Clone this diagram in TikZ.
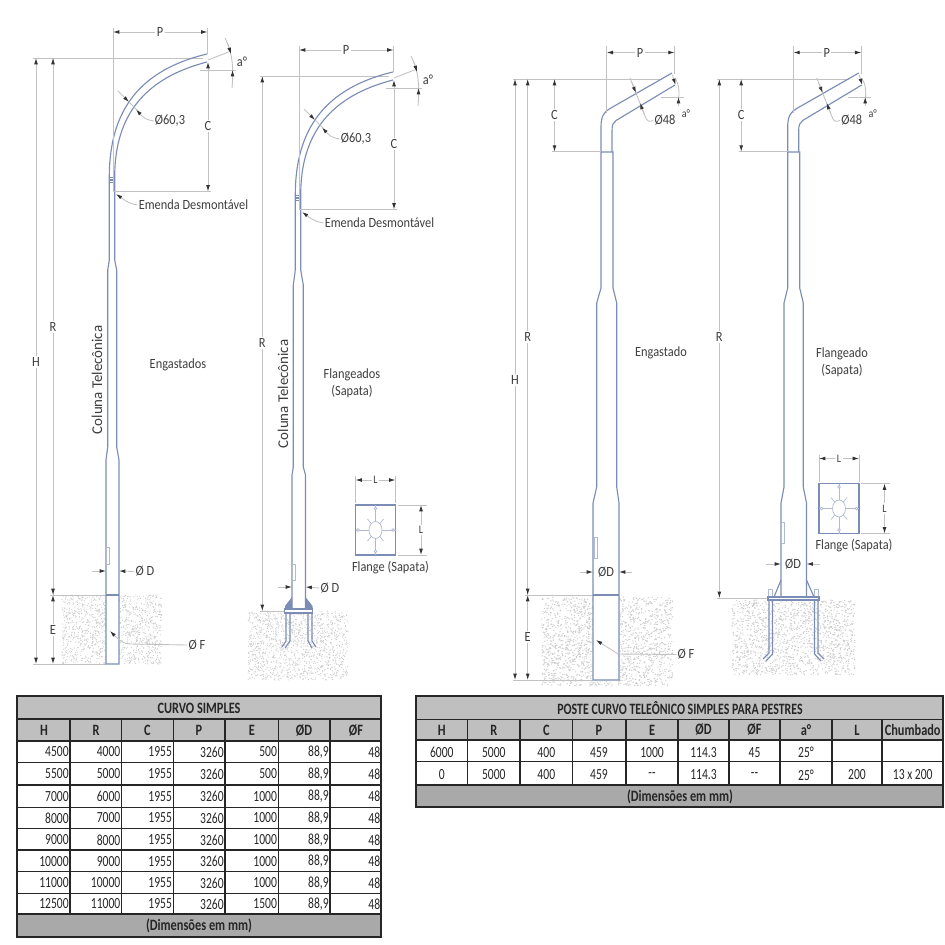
\documentclass[tikz,border=0pt]{standalone}
\usepackage{fontspec}
\setmainfont{Carlito}
\newfontfamily\lblfont[FakeStretch=0.88]{Carlito}
\newfontfamily\tabfont[FakeStretch=0.75]{Carlito}
\newfontfamily\tabheadfont[FakeStretch=0.78]{Carlito}
\newfontfamily\tabtitlefont[FakeStretch=0.75]{Carlito}
\usetikzlibrary{arrows.meta}
\definecolor{polecolor}{HTML}{7C8DB5}
\definecolor{dimcolor}{HTML}{C2C2C2}
\definecolor{labelcolor}{HTML}{3E3E3E}
\definecolor{headgray}{HTML}{BFBFBF}
\definecolor{footgray}{HTML}{A9A9A9}
\newcommand\soilblock[4]{
  \foreach \n in {1,...,#4} {
    \pgfmathsetmacro\sx{#1+rnd*100}
    \pgfmathsetmacro\sy{#2+rnd*#3}
    \fill[black!20] (\sx,\sy) circle [radius=0.6];
  }
}
\newcommand\dbldash{-{}-}
\tikzset{
poleline/.style={draw=polecolor,line width=0.65pt,fill=white},
armline/.style={draw=polecolor,line width=0.65pt},
thinline/.style={draw=polecolor!60,line width=0.4pt},
dimline/.style={draw=dimcolor,line width=0.5pt},
dimboth/.style={dimline,{Latex[length=3.6pt,width=2.2pt,black!80]}-{Latex[length=3.6pt,width=2.2pt,black!80]}},
dimend/.style={dimline,-{Latex[length=3.6pt,width=2.2pt,black!80]}},
lbl/.style={text=labelcolor,font=\lblfont\fontsize{8}{9.5}\selectfont,inner sep=0.6pt,align=center},
lblfill/.style={lbl,fill=white},
smalllbl/.style={lbl,font=\lblfont\fontsize{6.5}{7}\selectfont},
collbl/.style={text=labelcolor,font=\fontsize{8.5}{10}\selectfont,inner sep=0.6pt,rotate=90},
tframe/.style={draw=black!85,line width=1.1pt},
trule/.style={draw=black!85,line width=0.65pt},
tcell/.style={font=\tabfont\fontsize{8.8}{10}\selectfont,inner sep=0pt,text=black!85},
thead/.style={tcell,font=\tabheadfont\fontsize{9}{10}\selectfont\bfseries},
curvetop/.pic={
  \draw[armline] (109.3,177) .. controls (109.3,110) and (140,70) .. (207,54);
  \draw[armline] (114.7,177) .. controls (114.7,115) and (145,78) .. (207,62);
  \draw[armline] (108.8,177.5) -- (115.2,177.5);
  \draw[armline] (108.8,180) -- (115.2,180);
  \draw[armline] (108.8,182.5) -- (115.2,182.5);
  \draw[dimline] (113,28) -- (113,191.5);
  \draw[dimline] (207.5,28) -- (207.5,54);
  \draw[dimline] (113,191.5) -- (211,191.5);
  \node[lblfill] (-p) at (160,32) {P};
  \draw[dimend] (-p) -- (113,32);
  \draw[dimend] (-p) -- (207.5,32);
  \node[lblfill] (-c) at (208,126) {C};
  \draw[dimend] (-c) -- (208,62);
  \draw[dimend] (-c) -- (208,191.5);
  \draw[dimline] (200,70) -- (236,70);
  \draw[dimline] (208,60) -- (231,51);
  \draw[dimline] (225,38) .. controls (232,52) and (234,66) .. (232,88);
  \draw[dimend] (228,44) -- (231,54);
  \draw[dimend] (232.5,80) -- (232.5,70);
  \node[lbl] (-a) at (242,62) {a°};
  \node[lbl] (-d) at (170,121) {Ø60,3};
  \draw[dimend] (118,91) -- (129,102);
  \draw[dimline] (129,102) -- (137,110);
  \draw[dimend] (142,116) -- (136,109.5);
  \draw[dimline] (142,116) .. controls (146,120) and (150,120) .. (-d.west);
  \node[lbl] (-e) at (193.5,205) {Emenda Desmontável};
  \draw[dimline] (-e.west) .. controls (131,204) and (127,202) .. (123,199);
  \draw[dimend] (123,199) -- (116,194);
},
benttop/.pic={
  \draw[armline] (601,152) -- (601,127) .. controls (601,116) and (604,112) .. (610,108.5) -- (672,73);
  \draw[armline] (612,152) -- (612,131) .. controls (612,125) and (613,122.5) .. (616,120.5) -- (675,85);
  \draw[dimline] (606.7,46) -- (606.7,113);
  \draw[dimline] (674.6,46) -- (674.6,74);
  \draw[dimline] (552,151.7) -- (601,151.7);
  \node[lblfill] (-p) at (640,52.5) {P};
  \draw[dimend] (-p) -- (606.7,52.5);
  \draw[dimend] (-p) -- (674.6,52.5);
  \node[lblfill] (-c) at (554.5,115) {C};
  \draw[dimend] (-c) -- (554.5,79);
  \draw[dimend] (-c) -- (554.5,151.7);
  \draw[dimline] (661,97) -- (684,97);
  \draw[dimline] (675,78) .. controls (679,84) and (680,92) .. (678,104);
  \draw[dimend] (672.5,75) -- (675.5,85);
  \draw[dimend] (678.5,106) -- (678.5,97);
  \node[smalllbl] (-a) at (686,113.5) {a°};
  \node[lbl] (-d) at (665,120.5) {Ø48};
  \draw[dimline] (630,78) -- (645,116);
  \draw[dimend] (632,83) -- (636,93);
  \draw[dimend] (644,114) -- (640,103);
  \draw[dimline] (645,116) .. controls (647,122) and (649,122) .. (-d.west);
},
flangeplate/.pic={
  \draw[armline] (-20,-25) rectangle (20,25);
  \draw[thinline] (0,0) ellipse [x radius=6.5,y radius=8.5];
  \draw[thinline] (-20,0) -- (-6.5,0);
  \draw[thinline] (6.5,0) -- (20,0);
  \draw[thinline] (0,-25) -- (0,-8.5);
  \draw[thinline] (0,8.5) -- (0,25);
  \draw[thinline] (-8,-11) -- (-4,-6);
  \draw[thinline] (8,-11) -- (4,-6);
  \draw[thinline] (-8,11) -- (-4,6);
  \draw[thinline] (8,11) -- (4,6);
  \draw[thinline,fill=white] (-17.5,0) circle [radius=1.4];
  \draw[thinline,fill=white] (17.5,0) circle [radius=1.4];
  \draw[thinline,fill=white] (0,-21.5) circle [radius=1.4];
  \draw[thinline,fill=white] (0,21.5) circle [radius=1.4];
  \draw[dimline] (-20,-54) -- (-20,-27);
  \draw[dimline] (20,-54) -- (20,-27);
  \draw[dimline] (22,-25) -- (51,-25);
  \draw[dimline] (22,25) -- (51,25);
  \node[smalllbl,fill=white] (-t) at (0,-50) {L};
  \draw[dimend] (-t) -- (-20,-50);
  \draw[dimend] (-t) -- (20,-50);
  \node[smalllbl,fill=white] (-s) at (45.5,0) {L};
  \draw[dimend] (-s) -- (45.5,-25);
  \draw[dimend] (-s) -- (45.5,25);
  \node[lbl] (-n) at (15,37.5) {Flange (Sapata)};
}
}
\begin{document}
\begin{tikzpicture}[x=0.02cm,y=-0.02cm]
  \useasboundingbox (0,0) rectangle (945,945);
  \pgfmathsetseed{11}
  \soilblock{62}{595}{69}{1300}
  \soilblock{248}{611}{69}{1300}
  \begin{scope}[xscale=1.31]
  \soilblock{413.5}{597}{89}{1900}
  \end{scope}
  \begin{scope}[xscale=1.23]
  \soilblock{595}{600}{75}{1500}
  \end{scope}

  \draw[dimline] (33,58) -- (203,58);
  \draw[dimboth] (36,58) -- (36,664);
  \draw[dimline] (53,58) -- (53,595);
  \draw[dimend] (53,330) -- (53,58);
  \draw[dimend] (53,570) -- (53,595);
  \draw[dimboth] (53,595) -- (53,664);
  \draw[dimline] (50,595) -- (106,595);
  \draw[dimline] (33,664) -- (106,664);
  \draw[poleline] (109.3,177) -- (109.3,260) -- (107.7,270) -- (107.7,447) -- (106,460) -- (106,664) -- (119,664) -- (119,460) -- (116.7,447) -- (116.7,270) -- (114.7,260) -- (114.7,177);
  \draw[armline] (106,595) -- (119,595);
  \draw[thinline] (106.8,547) rectangle (109.3,564);
  \pic (armA) at (0,0) {curvetop};
  \node[lblfill] (labRa) at (53,327) {R};
  \node[lblfill] (labHa) at (36,362) {H};
  \node[lblfill] (labEa) at (53,630) {E};
  \node[collbl] (labCola) at (97,380) {Coluna Telecônica};
  \node[lbl] (labEng) at (178,365) {Engastados};
  \node[lbl] (labDa) at (145,571.5) {Ø D};
  \draw[dimend] (92,571) -- (106,571);
  \draw[dimend] (labDa.west) -- (119,571);
  \node[lbl] (labFa) at (197,645) {Ø F};
  \draw[dimline] (labFa.west) -- (130,644) .. controls (123,644) and (120,640) .. (116,637);
  \draw[dimend] (116,637) -- (110,631);

  \draw[dimline] (260,76) -- (389,76);
  \draw[dimline] (262.3,76) -- (262.3,611);
  \draw[dimend] (262.3,330) -- (262.3,76);
  \draw[dimend] (262.3,590) -- (262.3,611);
  \draw[dimline] (260,611) -- (285,611);
  \draw[poleline] (295.3,195) -- (295.3,270) -- (293.3,285) -- (293.3,467) -- (292,475) -- (292,609) -- (305.5,609) -- (305.5,475) -- (303.3,467) -- (303.3,285) -- (300.7,270) -- (300.7,195);
  \draw[thinline] (292.6,564) rectangle (295,580);
  \fill[polecolor] (292,597) -- (292,609) -- (285,609) -- (285,606) -- cycle;
  \fill[polecolor] (305.5,597) -- (305.5,609) -- (312.5,609) -- (312.5,606) -- cycle;
  \draw[poleline] (284.5,609) rectangle (312.5,613);
  \draw[armline] (286,613) -- (286,641) -- (282,647);
  \draw[armline] (290,613) -- (290,641) -- (285,648);
  \draw[armline] (308,613) -- (308,641) -- (312,648);
  \draw[armline] (312,613) -- (312,641) -- (316,647);
  \pic (armB) at (186,18) {curvetop};
  \node[lblfill] (labRb) at (262.3,343) {R};
  \node[collbl] (labColb) at (283,394) {Coluna Telecônica};
  \node[lbl] (labFlb) at (352,383) {Flangeados\\(Sapata)};
  \node[lbl] (labDb) at (330,588) {Ø D};
  \draw[dimend] (278,587) -- (292,587);
  \draw[dimend] (labDb.west) -- (305.5,587);
  \pic (flangeA) at (375.5,530) {flangeplate};

  \draw[dimline] (513,79) -- (662,79);
  \draw[dimboth] (515,79) -- (515,680);
  \draw[dimline] (527.7,79) -- (527.7,595);
  \draw[dimend] (527.7,330) -- (527.7,79);
  \draw[dimend] (527.7,570) -- (527.7,595);
  \draw[dimboth] (527.7,595) -- (527.7,680);
  \draw[dimline] (525,595) -- (593,595);
  \draw[dimline] (513,680) -- (593,680);
  \draw[poleline] (601,152) -- (601,288) -- (596.7,303) -- (596.7,487) -- (593,503) -- (593,680) -- (619,680) -- (619,503) -- (616.7,487) -- (616.7,303) -- (613,288) -- (613,152) -- cycle;
  \draw[armline] (593,595) -- (619,595);
  \draw[thinline] (594.5,537) rectangle (597,558);
  \pic (armC) at (0,0) {benttop};
  \node[lblfill] (labRc) at (527.7,337) {R};
  \node[lblfill] (labHc) at (515,380) {H};
  \node[lblfill] (labEc) at (527.7,637) {E};
  \node[lbl] (labEngc) at (661,353) {Engastado};
  \node[lbl] (labDc) at (606,572) {ØD};
  \draw[dimend] (580,572) -- (593,572);
  \draw[dimend] (632,572) -- (619,572);
  \node[lbl] (labFc) at (686,654.5) {Ø F};
  \draw[dimline] (labFc.west) -- (618,654);
  \draw[dimend] (618,654) -- (596,640);

  \draw[dimline] (717,79) -- (849,79);
  \draw[dimline] (719.3,79) -- (719.3,598);
  \draw[dimend] (719.3,330) -- (719.3,79);
  \draw[dimend] (719.3,575) -- (719.3,598);
  \draw[dimline] (717,598) -- (768,598);
  \draw[poleline] (787.7,152) -- (787.7,288) -- (784,303) -- (784,487) -- (781,503) -- (781,597) -- (806.5,597) -- (806.5,503) -- (803.3,487) -- (803.3,303) -- (799.7,288) -- (799.7,152) -- cycle;
  \draw[thinline] (781.5,522) rectangle (784,543);
  \draw[armline] (781,580) -- (774,597);
  \draw[armline] (806.5,580) -- (814,597);
  \draw[thinline] (768.5,589) rectangle (772.5,597);
  \draw[thinline] (814.5,589) rectangle (818.5,597);
  \draw[poleline] (768,597) rectangle (819,600);
  \draw[armline] (769,600) -- (769,653) -- (763,659);
  \draw[armline] (772.5,600) -- (772.5,654) -- (766,661);
  \draw[armline] (814.5,600) -- (814.5,654) -- (821,661);
  \draw[armline] (818,600) -- (818,653) -- (824,659);
  \pic (armD) at (186.7,0) {benttop};
  \node[lblfill] (labRd) at (719.3,337) {R};
  \node[lbl] (labFld) at (842,362) {Flangeado\\(Sapata)};
  \node[lbl] (labDd) at (793,564) {ØD};
  \draw[dimend] (766,564) -- (781,564);
  \draw[dimend] (820,564) -- (806.5,564);
  \pic (flangeB) at (839,508.5) {flangeplate};

  \fill[headgray] (16.7,696) rectangle (381,741);
  \fill[footgray] (16.7,914) rectangle (381,937);
  \foreach \y in {719,741,762.7,785,807.3,828.3,850,871.7,893.3,914}
    \draw[trule] (16.7,\y) -- (381,\y);
  \foreach \x in {70,121.7,173.3,225,278.3,330}
    \draw[trule] (\x,719) -- (\x,914);
  \draw[tframe] (16.7,696) rectangle (381,937);
  \node[thead] (tabAtitle) at (199,708.5) {CURVO SIMPLES};
  \node[thead] (tabAfoot) at (199,926) {(Dimensões em mm)};
  \foreach \t/\x [count=\c] in {H/44,R/96,C/147.5,P/199,E/252,ØD/304,ØF/356}
    \node[thead] (tabAh\c) at (\x,730.5) {\t};
  \foreach \y/\vals [count=\r] in {752/{4500,4000,1955,3260,500,{88,9},48},
    774/{5500,5000,1955,3260,500,{88,9},48},
    796.5/{7000,6000,1955,3260,1000,{88,9},48},
    818/{8000,7000,1955,3260,1000,{88,9},48},
    840/{9000,8000,1955,3260,1000,{88,9},48},
    861.5/{10000,9000,1955,3260,1000,{88,9},48},
    883/{11000,10000,1955,3260,1000,{88,9},48},
    904/{12500,11000,1955,3260,1500,{88,9},48}}
    \foreach \v [count=\c] in \vals {
      \pgfmathsetmacro\xr{{69,120.7,172.3,224,277.3,329,380.5}[\c-1]}
      \node[tcell,anchor=east] (tabAr\r c\c) at (\xr,\y) {\v};
    }

  \fill[headgray] (416,696) rectangle (943.3,740);
  \fill[footgray] (416,785) rectangle (943.3,806.7);
  \foreach \y in {719.3,740,761.7,785}
    \draw[trule] (416,\y) -- (943.3,\y);
  \foreach \x in {467.5,520,572.5,626,678,729,780,832,882}
    \draw[trule] (\x,719.3) -- (\x,785);
  \draw[tframe] (416,696) rectangle (943.3,806.7);
  \node[thead,font=\tabtitlefont\fontsize{9}{10}\selectfont\bfseries] (tabBtitle) at (680,708.5) {POSTE CURVO TELEÔNICO SIMPLES PARA PESTRES};
  \node[thead] (tabBfoot) at (680,796.5) {(Dimensões em mm)};
  \foreach \t [count=\c] in {H,R,C,P,E,ØD,ØF,a°,L,Chumbado} {
    \pgfmathsetmacro\xc{{441.8,493.8,546.3,599,652,703.5,754.5,806,857,912.7}[\c-1]}
    \node[thead] (tabBh\c) at (\xc,730) {\t};
  }
  \foreach \y/\vals [count=\r] in {752.5/{6000,5000,400,459,1000,114.3,45,25°},
    775/{0,5000,400,459,\dbldash,114.3,\dbldash,25°,200,13 x 200}}
    \foreach \v [count=\c] in \vals {
      \pgfmathsetmacro\xc{{441.8,493.8,546.3,599,652,703.5,754.5,806,857,912.7}[\c-1]}
      \node[tcell] (tabBr\r c\c) at (\xc,\y) {\v};
    }
\end{tikzpicture}
\end{document}
